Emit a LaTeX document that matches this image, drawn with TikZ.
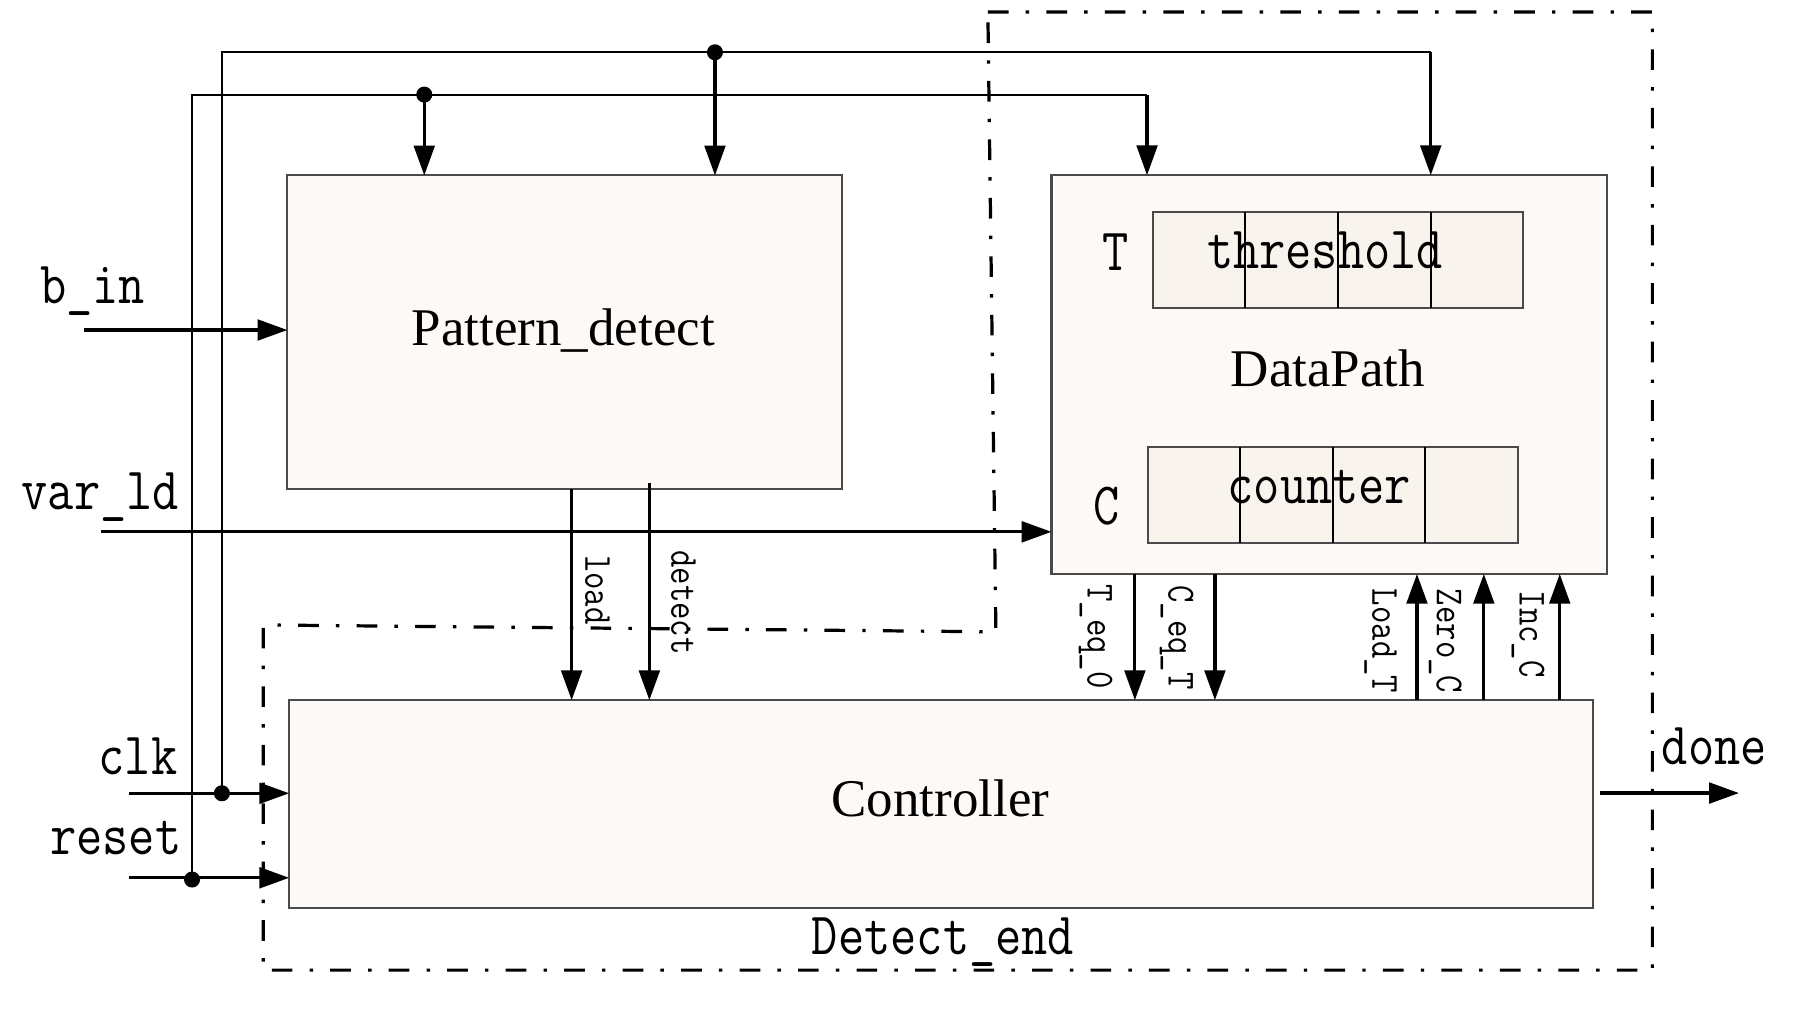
\documentclass[tikz,border=0pt]{standalone}
\usepackage{fontspec}
\usepackage{graphicx}
\setmainfont{Liberation Serif}
\usetikzlibrary{arrows.meta,calc}
\definecolor{boxfill}{HTML}{FDF9F6}
\definecolor{regfill}{HTML}{F8F3EC}
\definecolor{edgecol}{HTML}{4A4A4A}
\newcommand\monoL[1]{\scalebox{0.847}[1]{\ttfamily\fontsize{26.2pt}{30pt}\selectfont #1}}
\newcommand\monoS[1]{\scalebox{0.847}[1]{\ttfamily\fontsize{17.4pt}{20pt}\selectfont #1}}
\newcommand\serifL[1]{{\fontsize{23.1pt}{27pt}\selectfont #1}}
\tikzset{
  blk/.style={draw=edgecol, line width=0.9pt, fill=boxfill, inner sep=0pt, outer sep=0pt},
  regbox/.style={draw=edgecol, line width=0.9pt, fill=regfill, inner sep=0pt, outer sep=0pt},
  arr/.style={line width=1.4pt, -{Triangle[length=13pt,width=9pt]}},
  wire/.style={line width=0.8pt},
  divider/.style={line width=0.8pt},
  dashdotline/.style={line width=1.4pt, dash pattern=on 9pt off 7.5pt on 1.5pt off 7.5pt},
  jdot/.style={circle, fill=black, inner sep=0pt, minimum size=7pt},
  lbl/.style={inner sep=0pt, anchor=base},
  vlbl/.style={inner sep=0pt, rotate=-90}
}
\begin{document}
\begin{tikzpicture}[x=0.5pt, y=-0.5pt]
\useasboundingbox (0,0) rectangle (1568,888);

% dash-dot boundary
\draw[dashdotline] (861.5,10.5) -- (1441,10.5) -- (1441,846) -- (229.5,846) -- (229.5,545) -- (868.5,551) -- cycle;

% blocks
\node[blk, minimum width=241.7pt, minimum height=136.8pt] (pd) at (492.3,289.8) {};
\node[blk, minimum width=242.25pt, minimum height=173.85pt] (dp) at (1159.25,326.65) {};
\node[blk, minimum width=568.3pt, minimum height=90.75pt] (ctl) at (820.5,701.35) {};
\node[regbox, minimum width=161.65pt, minimum height=41.75pt] (treg) at (1166.85,226.75) {};
\node[regbox, minimum width=161.25pt, minimum height=41.75pt] (creg) at (1162.25,431.75) {};
\foreach \f in {0.25,0.5,0.75} {
  \draw[divider] ($(treg.north west)!\f!(treg.north east)$) -- ($(treg.south west)!\f!(treg.south east)$);
  \draw[divider] ($(creg.north west)!\f!(creg.north east)$) -- ($(creg.south west)!\f!(creg.south east)$);
}

% inputs clk / reset
\coordinate (clkin) at (112.8,691.8);
\coordinate (rstin) at (112.8,765.5);
\draw[arr] (clkin) -- (clkin -| ctl.west);
\draw[arr] (rstin) -- (rstin -| ctl.west);
\node[jdot] (dclk) at (193.5,691.8) {};
\node[jdot] (drst) at (167.5,767) {};

% top distribution wires
\coordinate (topR) at (1247.7,45.6);
\coordinate (midR) at (1000.3,82.5);
\draw[wire] (dclk.center) |- (topR);
\draw[wire] (drst.center) |- (midR);
\node[jdot] (dtop) at (623.5,45.6) {};
\node[jdot] (dmid) at (370,82.5) {};
\draw[arr] (dtop.center) -- (dtop.center |- pd.north);
\draw[arr] (dmid.center) -- (dmid.center |- pd.north);
\draw[arr] (topR) -- (topR |- dp.north);
\draw[arr] (midR) -- (midR |- dp.north);

% b_in, var_ld
\coordinate (bin) at (73,287.8);
\coordinate (vld) at (87.8,463.8);
\draw[arr] (bin) -- (bin -| pd.west);
\draw[arr] (vld) -- (vld -| dp.west);

% load / detect
\coordinate (ldx) at (498.5,0);
\coordinate (dtS) at (566.3,421.5);
\draw[arr] (pd.south -| ldx) -- (ctl.north -| ldx);
\draw[arr] (dtS) -- (dtS |- ctl.north);

% datapath <-> controller
\coordinate (teqx) at (989.7,0);
\coordinate (ceqx) at (1059.5,0);
\coordinate (ldtx) at (1235.7,0);
\coordinate (zcx) at (1294,0);
\coordinate (icx) at (1360.2,0);
\draw[arr] (dp.south -| teqx) -- (ctl.north -| teqx);
\draw[arr] (dp.south -| ceqx) -- (ctl.north -| ceqx);
\draw[arr] (ctl.north -| ldtx) -- (dp.south -| ldtx);
\draw[arr] (ctl.north -| zcx) -- (dp.south -| zcx);
\draw[arr] (ctl.north -| icx) -- (dp.south -| icx);

% done
\coordinate (doneS) at (1395.5,691.6);
\coordinate (doneE) at (1516.5,691.6);
\draw[arr] (doneS) -- (doneE);

% texts
\node[lbl] (tpd) at (491.3,300.9) {\serifL{Pattern\_detect}};
\node[lbl] (tdp) at (1158,337.2) {\serifL{DataPath}};
\node[lbl] (tctl) at (820,712.2) {\serifL{Controller}};
\node[lbl] (tthr) at (1155.5,234) {\monoL{threshold}};
\node[lbl] (tcnt) at (1150.6,439) {\monoL{counter}};
\node[lbl] (tT) at (972.8,236) {\monoL{T}};
\node[lbl] (tC) at (965.3,457.8) {\monoL{C}};
\node[lbl] (tde) at (822.4,832) {\monoL{Detect\_end}};
\node[lbl] (tbin) at (80.8,264.5) {\monoL{b\_in}};
\node[lbl] (tvld) at (87.5,444) {\monoL{var\_ld}};
\node[lbl] (tclk) at (120.3,675) {\monoL{clk}};
\node[lbl] (trst) at (101,744.8) {\monoL{reset}};
\node[lbl] (tdone) at (1495,667) {\monoL{done}};

\node[vlbl] (tload) at (521,514.5) {\monoS{load}};
\node[vlbl] (tdet) at (596,525.5) {\monoS{detect}};
\node[vlbl] (tteq) at (955.4,555) {\monoS{T\_eq\_0}};
\node[vlbl] (tceq) at (1026,556) {\monoS{C\_eq\_T}};
\node[vlbl] (tldt) at (1204,559) {\monoS{Load\_T}};
\node[vlbl] (tzc) at (1260.5,559) {\monoS{Zero\_C}};
\node[vlbl] (tic) at (1332.5,553) {\monoS{Inc\_C}};
\end{tikzpicture}
\end{document}
